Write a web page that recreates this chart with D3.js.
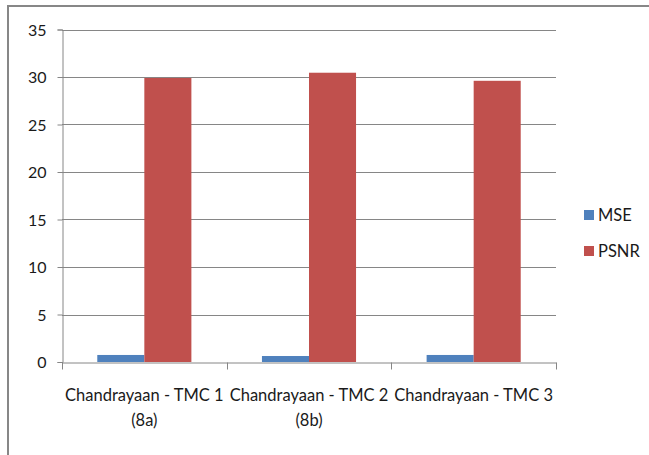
<!DOCTYPE html>
<html>
<head>
<meta charset="utf-8">
<script src="https://cdn.jsdelivr.net/npm/d3@7"></script>
<style>
  html, body { margin: 0; padding: 0; background: #fff; }
  svg { display: block; }
  text { font-family: Lato, "Open Sans", sans-serif; fill: #1a1a1a; }
</style>
</head>
<body>
<svg id="chart" width="649" height="455"></svg>
<script>
// Image quality measures per Chandrayaan TMC test image
const categories = [
  ["Chandrayaan - TMC 1", "(8a)"],
  ["Chandrayaan - TMC 2", "(8b)"],
  ["Chandrayaan - TMC 3"]
];
const seriesNames = ["MSE", "PSNR"];
const mseValues = [0.74, 0.63, 0.74];
const psnrValues = [29.9, 30.45, 29.6];
const yTicks = [0, 5, 10, 15, 20, 25, 30, 35];
const colors = ["#4F81BD", "#C0504D"];

const svg = d3.select("#chart");

// outer chart frame (only top and left edges fall inside the view)
svg.append("rect")
  .attr("x", 8).attr("y", 6)
  .attr("width", 700).attr("height", 500)
  .attr("fill", "none")
  .attr("stroke", "#878787")
  .attr("stroke-width", 2);

const plot = { left: 62, right: 556, top: 29.5, bottom: 362 };

const x0 = d3.scaleBand()
  .domain(d3.range(categories.length))
  .range([plot.left, plot.right])
  .paddingInner(0).paddingOuter(0);

const inner = d3.scaleBand()
  .domain(seriesNames)
  .range([0, x0.bandwidth()])
  .paddingInner(0)
  .paddingOuter(0.75);

const y = d3.scaleLinear().domain([0, 35]).range([plot.bottom, plot.top]);

// horizontal gridlines
svg.append("g")
  .selectAll("line")
  .data(yTicks.filter(d => d > 0))
  .join("line")
  .attr("x1", plot.left).attr("x2", plot.right)
  .attr("y1", d => Math.round(y(d)) + 0.5).attr("y2", d => Math.round(y(d)) + 0.5)
  .attr("stroke", "#868686").attr("stroke-width", 1);

// bars
const data = categories.map((c, i) => ({ i, values: [mseValues[i], psnrValues[i]] }));
const groups = svg.append("g").selectAll("g")
  .data(data)
  .join("g")
  .attr("transform", d => `translate(${x0(d.i)},0)`);

groups.selectAll("rect")
  .data(d => d.values.map((v, k) => ({ k, v })))
  .join("rect")
  .attr("x", d => inner(seriesNames[d.k]))
  .attr("width", inner.bandwidth())
  .attr("y", d => y(d.v))
  .attr("height", d => y(0) - y(d.v))
  .attr("fill", d => colors[d.k]);

// y axis
const yAxis = d3.axisLeft(y).tickValues(yTicks).tickSize(5).tickPadding(11);
const gy = svg.append("g")
  .attr("transform", `translate(${plot.left + 0.5},0)`)
  .call(yAxis);
gy.select(".domain").attr("stroke", "#868686");
gy.selectAll(".tick line").attr("stroke", "#868686");
gy.selectAll(".tick text")
  .style("font-size", "16px")
  .attr("dy", "0.35em");

// x axis
const xAxis = d3.axisBottom(x0).tickValues([]).tickSizeOuter(0);
const gx = svg.append("g")
  .attr("transform", `translate(0,${plot.bottom + 0.5})`)
  .call(xAxis);
gx.select(".domain").attr("stroke", "#868686");
gx.selectAll(".sep")
  .data(d3.range(categories.length + 1))
  .join("line")
  .attr("class", "sep")
  .attr("x1", d => Math.round(plot.left + d * x0.bandwidth()) + 0.5)
  .attr("x2", d => Math.round(plot.left + d * x0.bandwidth()) + 0.5)
  .attr("y1", 0).attr("y2", 7)
  .attr("stroke", "#868686");

// category labels
const catLabels = svg.append("g").selectAll("text")
  .data(categories)
  .join("text")
  .attr("text-anchor", "middle")
  .style("font-size", "16.5px")
  .attr("transform", (d, i) => `translate(${x0(i) + x0.bandwidth() / 2},401)`);
catLabels.selectAll("tspan")
  .data(d => d)
  .join("tspan")
  .attr("x", 0)
  .attr("y", (d, k) => k * 25)
  .text(d => d);

// legend
const legend = svg.append("g").selectAll("g")
  .data(seriesNames)
  .join("g")
  .attr("transform", (d, i) => `translate(584,${210 + i * 36})`);
legend.append("rect")
  .attr("width", 10).attr("height", 10)
  .attr("fill", (d, i) => colors[i]);
legend.append("text")
  .attr("x", 14).attr("y", 5).attr("dy", "0.36em")
  .style("font-size", "16.5px")
  .text(d => d);
</script>
</body>
</html>
